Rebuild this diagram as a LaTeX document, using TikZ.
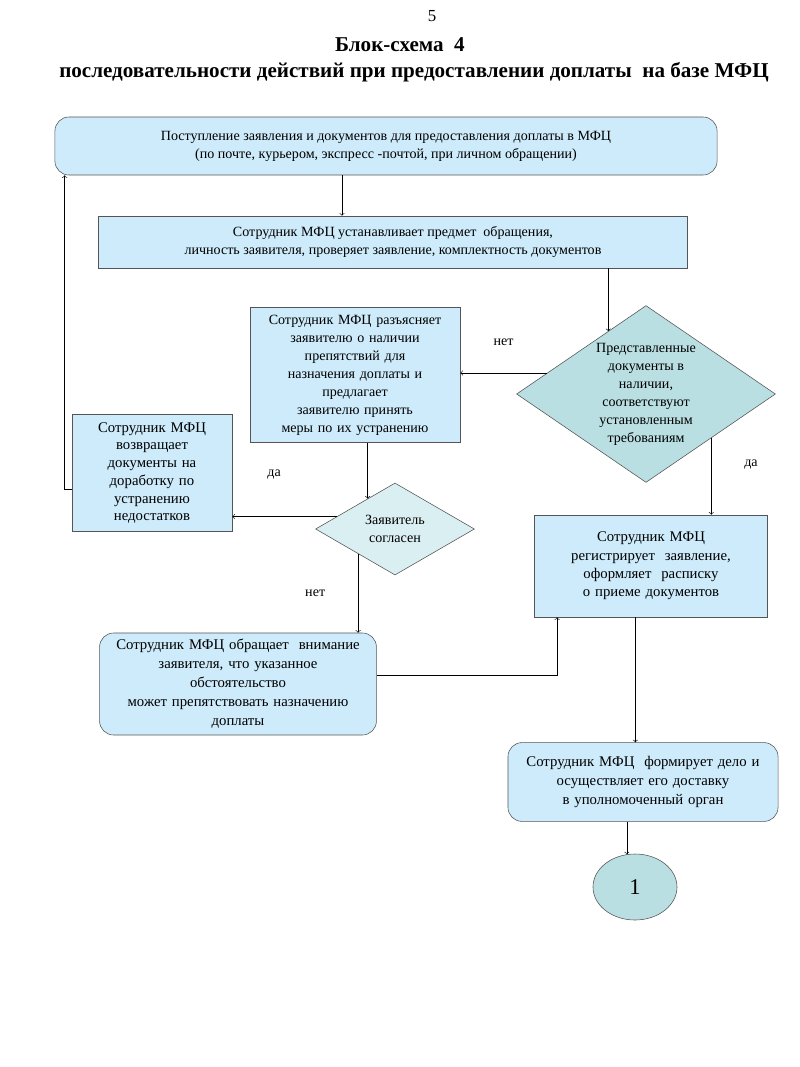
\documentclass[tikz,border=0pt]{standalone}
\usepackage{fontspec}
\setmainfont{Liberation Serif}
\usetikzlibrary{shapes.geometric}

\definecolor{boxblue}{HTML}{CDEBFA}
\definecolor{decteal}{HTML}{B9DFE2}
\definecolor{decpale}{HTML}{DAEFF1}
\definecolor{edgegray}{HTML}{555555}

\tikzset{
  block/.style={draw=edgegray, fill=boxblue, align=center, inner sep=2pt,
    font=\fontsize{10}{12.8}\selectfont},
  rblock/.style={block, rounded corners=10pt},
  decision/.style={draw=edgegray, diamond, align=center, inner sep=0pt,
    font=\fontsize{10}{12.8}\selectfont},
  answer/.style={font=\fontsize{10}{12}\selectfont},
  title/.style={font=\fontsize{15}{18}\selectfont\bfseries},
}

\begin{document}
\begin{tikzpicture}[x=0.025cm,y=-0.025cm]
\useasboundingbox (0,0) rectangle (800,1067);

\node[font=\fontsize{12}{14}\selectfont] (0) at (432,16) {5};
\node[title] (t1) at (400,45) {Блок-схема\ \ 4};
\node[title] (t2) at (414,72) {последовательности действий при предоставлении доплаты\ \ на базе МФЦ};

\node[rblock, minimum width=16.55cm, minimum height=1.45cm] (1) at (386,146)
  {Поступление заявления и документов для предоставления доплаты в МФЦ\\(по почте, курьером, экспресс -почтой, при личном обращении)};
\node[block, minimum width=14.72cm, minimum height=1.3cm] (2) at (393,242)
  {Сотрудник МФЦ устанавливает предмет\ \ обращения,\\личность заявителя, проверяет заявление, комплектность документов};
\node[decision, fill=decteal, minimum width=6.47cm, minimum height=4.42cm, aspect=1.46] (3) at (646,394)
  {Представленные\\документы в\\наличии,\\соответствуют\\установленным\\требованиям};
\node[block, text width=5cm, minimum width=5.25cm, minimum height=3.37cm] (4) at (355,375)
  {Сотрудник МФЦ разъясняет\\заявителю о наличии\\препятствий для\\назначения доплаты и\\предлагает\\заявителю принять\\меры по их устранению};
\node[block, text width=3.8cm, minimum width=4cm, minimum height=2.92cm,
  font=\fontsize{10.5}{12.6}\selectfont] (5) at (152,473)
  {Сотрудник МФЦ\\возвращает\\документы на\\доработку по\\устранению\\недостатков};
\node[decision, fill=decpale, minimum width=3.97cm, minimum height=2.3cm, aspect=1.73] (6) at (395,529)
  {Заявитель\\согласен};
\node[block, text width=5.6cm, minimum width=5.82cm, minimum height=2.55cm,
  font=\fontsize{10.5}{13}\selectfont] (7) at (651,566)
  {Сотрудник МФЦ\\регистрирует\ \ заявление,\\оформляет\ \ расписку\\о приеме документов};
\node[rblock, text width=6.7cm, minimum width=6.92cm, minimum height=2.55cm,
  font=\fontsize{10.5}{13.5}\selectfont] (8) at (238,684)
  {Сотрудник МФЦ обращает\ \ внимание\\заявителя, что указанное\\обстоятельство\\может препятствовать назначению\\доплаты};
\node[rblock, text width=6.5cm, minimum width=6.75cm, minimum height=1.97cm,
  font=\fontsize{10.5}{13.5}\selectfont] (9) at (643,782)
  {Сотрудник МФЦ\ \ формирует дело и\\осуществляет его доставку\\в уполномоченный орган};
\node[draw=edgegray, fill=decteal, ellipse, minimum width=2.1cm, minimum height=1.65cm,
  font=\fontsize{16}{18}\selectfont] (10) at (635,887) {1};

\path[draw,->] ([xshift=-1.1cm]1.south) -- ([xshift=-1.1cm]1.south |- 2.north);
\path[draw,->] (3.121 |- 2.south) -- (3.121);
\path[draw,->] (3.168) -- node[answer,above=0.55cm] (n1) {нет} (3.168 -| 4.east);
\path[draw,->] (4.south -| 6.132) -- (6.132);
\path[draw,->] (6.168) -- node[answer,above=0.8cm,pos=0.6] (y1) {да} (6.168 -| 5.east);
\path[draw,->] ([yshift=-0.41cm]5.west) -| ([xshift=0.25cm]1.south west);
\path[draw,->] (6.214) -- node[answer,left=0.7cm] (n2) {нет} (6.214 |- 8.north);
\path[draw,->] (3.-34) -- node[answer,right=0.7cm,pos=0.35] (y2) {да} (3.-34 |- 7.north);
\path[draw,->] ([yshift=0.22cm]8.east) -| ([xshift=0.57cm]7.south west);
\path[draw,->] ([xshift=-0.39cm]7.south) -- ([xshift=-0.39cm]7.south |- 9.north);
\path[draw,->] (10.104 |- 9.south) -- (10.104);
\end{tikzpicture}
\end{document}
